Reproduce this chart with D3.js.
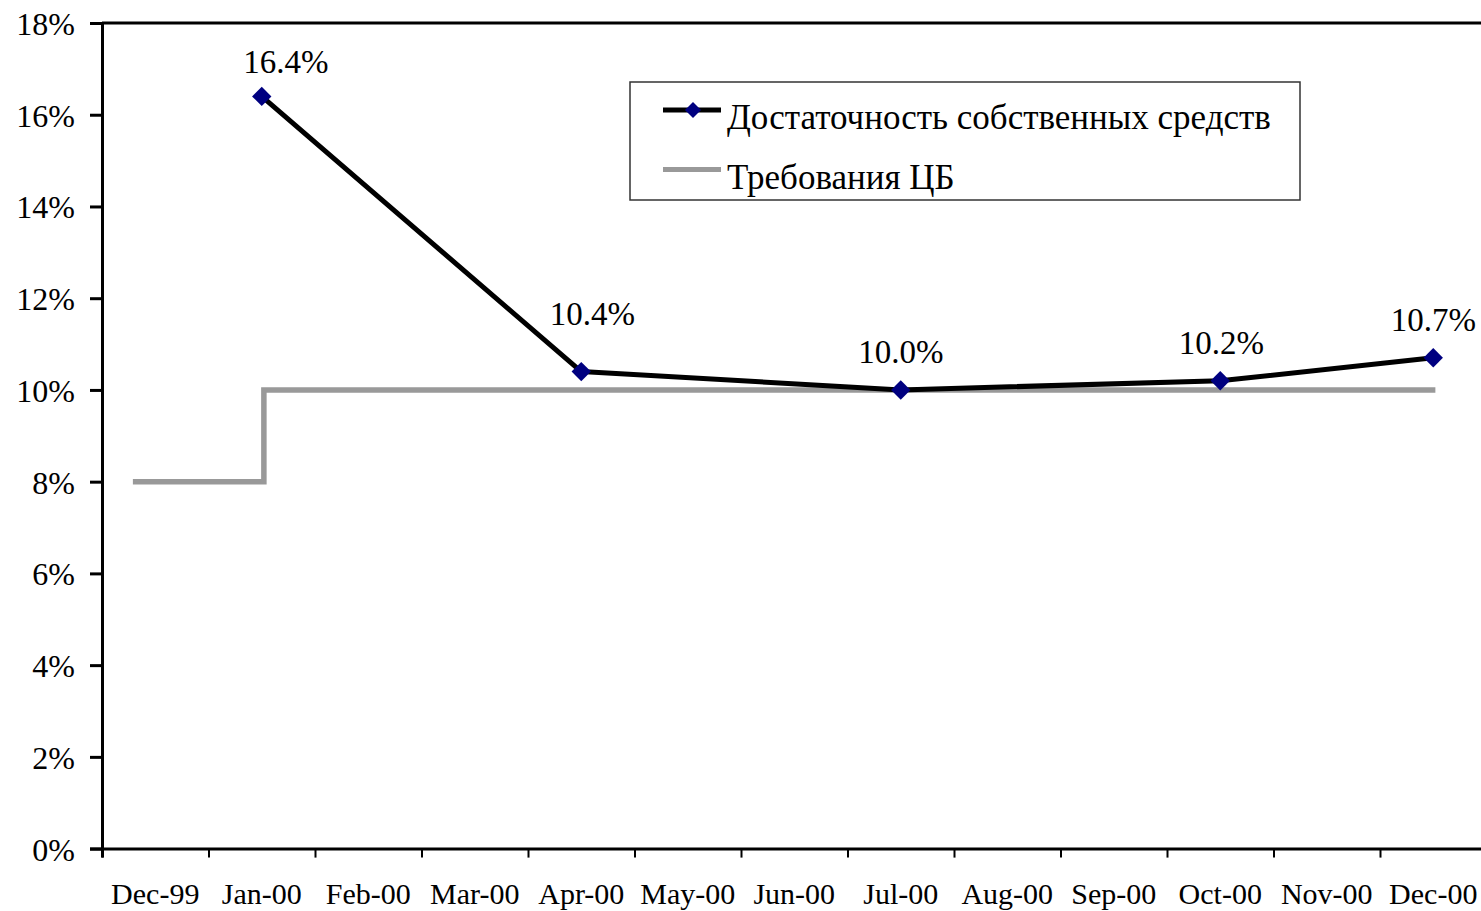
<!DOCTYPE html>
<html>
<head>
<meta charset="utf-8">
<script src="https://cdn.jsdelivr.net/npm/d3@7"></script>
<style>
  html, body { margin: 0; padding: 0; background: #fff; }
  svg { display: block; }
  text { font-family: "Liberation Serif", "Times New Roman", serif; fill: #000; }
</style>
</head>
<body>
<svg id="chart" width="1481" height="911"></svg>
<script>
// Month labels along the bottom axis (Dec-99 = month index 0)
const months = ["Dec-99", "Jan-00", "Feb-00", "Mar-00", "Apr-00", "May-00", "Jun-00",
                "Jul-00", "Aug-00", "Sep-00", "Oct-00", "Nov-00", "Dec-00"];

// Capital adequacy ratio, %, at mid-month positions
const capitalMonth = [1, 4, 7, 10, 12];
const capitalValue = [16.4, 10.4, 10.0, 10.2, 10.7];

// Central bank requirement, %, as a stepped line (fractional month positions)
const reqMonth = [0.29, 1.52, 1.52, 12.52];
const reqValue = [8, 8, 10, 10];

// Y axis tick values, %
const yTicks = [0, 2, 4, 6, 8, 10, 12, 14, 16, 18];

// Series names for the legend
const seriesNames = ["Достаточность собственных средств", "Требования ЦБ"];

// Small label nudges (px) for the value labels
const labelNudgeX = [24, 11, 0, 1, 0];
const labelNudgeY = [4, -20, 0, 0, 0];

const svg = d3.select("#chart");
const plotLeft = 102, plotTop = 23, plotBottom = 848.6, monthWidth = 106.5;

const x = d3.scaleLinear().domain([0, months.length]).range([plotLeft, plotLeft + months.length * monthWidth]);
const y = d3.scaleLinear().domain([0, 18]).range([plotBottom, plotTop]);
const xc = m => x(m + 0.5);

// Plot frame: top edge
svg.append("line")
  .attr("x1", plotLeft).attr("x2", x(months.length))
  .attr("y1", y(18)).attr("y2", y(18))
  .attr("stroke", "#000").attr("stroke-width", 3);

// Y axis
const yAxis = svg.append("g").attr("transform", `translate(${plotLeft},0)`)
  .call(d3.axisLeft(y).tickValues(yTicks).tickSize(12).tickFormat(d => d + "%"));
yAxis.select(".domain").attr("stroke", "#000").attr("stroke-width", 3);
yAxis.selectAll(".tick line").attr("stroke", "#000").attr("stroke-width", 3);
yAxis.selectAll(".tick text")
  .attr("x", -27).attr("dy", "0.36em")
  .style("font-family", "Liberation Serif").style("font-size", "32px").attr("fill", "#000");

// X axis: ticks at month boundaries, labels centred in each month
const xAxis = svg.append("g").attr("transform", `translate(0,${plotBottom})`)
  .call(d3.axisBottom(x).tickValues(d3.range(0, months.length + 1)).tickSize(9).tickFormat(""));
xAxis.select(".domain").attr("stroke", "#000").attr("stroke-width", 3);
xAxis.selectAll(".tick line").attr("stroke", "#000").attr("stroke-width", 2);

svg.append("g").selectAll("text")
  .data(months)
  .join("text")
  .attr("x", (d, i) => xc(i))
  .attr("y", 904)
  .attr("text-anchor", "middle")
  .style("font-size", "30px")
  .text(d => d);

// Requirement step line
const reqData = reqMonth.map((m, i) => [m, reqValue[i]]);
svg.append("path")
  .datum(reqData)
  .attr("fill", "none")
  .attr("stroke", "#999999")
  .attr("stroke-width", 5.5)
  .attr("d", d3.line().x(d => x(d[0])).y(d => y(d[1])));

// Capital adequacy line
const capData = capitalMonth.map((m, i) => [m, capitalValue[i]]);
svg.append("path")
  .datum(capData)
  .attr("fill", "none")
  .attr("stroke", "#000")
  .attr("stroke-width", 5)
  .attr("stroke-linejoin", "round")
  .attr("d", d3.line().x(d => xc(d[0])).y(d => y(d[1])));

const diamond = d3.symbol().type(d3.symbolDiamond2).size(240);
svg.append("g").selectAll("path")
  .data(capData)
  .join("path")
  .attr("transform", d => `translate(${xc(d[0])},${y(d[1])})`)
  .attr("d", diamond)
  .attr("fill", "#000080");

// Value labels
svg.append("g").selectAll("text")
  .data(capData)
  .join("text")
  .attr("x", (d, i) => xc(d[0]) + labelNudgeX[i])
  .attr("y", (d, i) => y(d[1]) - 27 + labelNudgeY[i])
  .attr("text-anchor", "middle")
  .style("font-size", "33px")
  .text(d => d[1].toFixed(1) + "%");

// Legend
const legend = svg.append("g");
legend.append("rect")
  .attr("x", 630).attr("y", 82).attr("width", 670).attr("height", 118)
  .attr("fill", "#fff").attr("stroke", "#333").attr("stroke-width", 1.5);

const legendY = [110, 169.5];
legend.append("line")
  .attr("x1", 663).attr("x2", 721).attr("y1", legendY[0]).attr("y2", legendY[0])
  .attr("stroke", "#000").attr("stroke-width", 5);
legend.append("path")
  .attr("transform", `translate(693,${legendY[0]})`)
  .attr("d", d3.symbol().type(d3.symbolDiamond2).size(165)).attr("fill", "#000080");
legend.append("line")
  .attr("x1", 663).attr("x2", 721).attr("y1", legendY[1]).attr("y2", legendY[1])
  .attr("stroke", "#999999").attr("stroke-width", 5);

legend.selectAll("text.lg")
  .data(seriesNames)
  .join("text")
  .attr("class", "lg")
  .attr("x", 727)
  .attr("y", (d, i) => legendY[i] + 19)
  .style("font-size", "35px")
  .text(d => d);
</script>
</body>
</html>
